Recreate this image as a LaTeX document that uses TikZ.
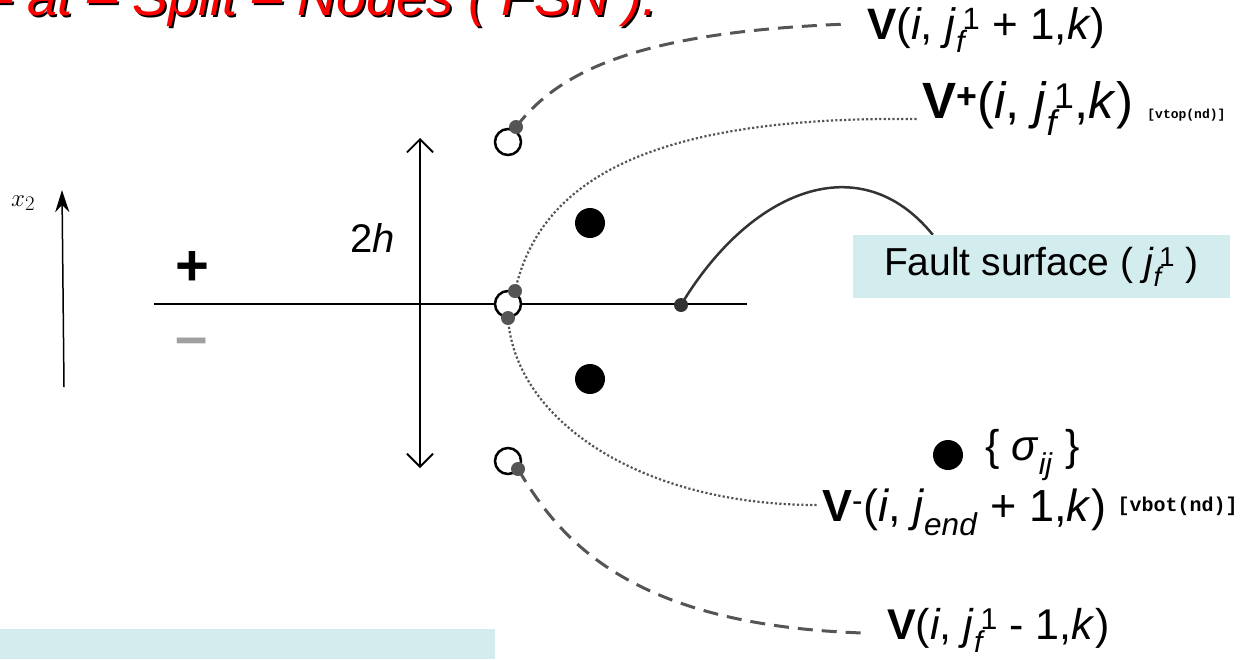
\documentclass[tikz,border=0pt]{standalone}
\usepackage{fontspec}
\setmainfont{Liberation Sans}
\setmonofont{Liberation Mono}
\usetikzlibrary{arrows.meta}
\definecolor{dotgray}{HTML}{555555}
\definecolor{curvegray}{HTML}{333333}
\definecolor{boxfill}{HTML}{D3ECEE}
\definecolor{minusgray}{HTML}{A0A0A0}
\newcommand\jfo{\textit{j}\textsubscript{\textit{f}}\kern-0.12em\textsuperscript{1}}
\newcommand\fsz[1]{\fontsize{#1}{#1}\selectfont}
\pgfdeclarelayer{bg}
\pgfsetlayers{bg,main}
\begin{document}
\begin{tikzpicture}[x=1pt,y=-1pt,
 opencirc/.style={circle,draw,line width=2.5pt,minimum size=26pt,inner sep=0pt,fill=white},
 gdot/.style={circle,fill=dotgray,minimum size=14pt,inner sep=0pt},
 bdot/.style={circle,fill=black,minimum size=30pt,inner sep=0pt},
 lab/.style={anchor=base west,inner sep=0pt,font=\fsz{43}},
 dashedc/.style={draw=dotgray,line width=3pt,dash pattern=on 15pt off 9pt},
 dottedc/.style={draw=dotgray,line width=2.2pt,dash pattern=on 2.2pt off 2.2pt},
 titletext/.style={anchor=base west,inner sep=0pt,font=\fsz{54}\itshape},
]
\useasboundingbox (0,0) rectangle (1252,659);
\clip (0,0) rectangle (1252,659);

% title
\node[titletext,text=black] (titleshadow) at (-16,17) {– at – Split – Nodes ( FSN ).};
\node[titletext,text=red] (title) at (-18,15) {– at – Split – Nodes ( FSN ).};

% x2 axis
\coordinate (xa) at (64,387);
\coordinate (xb) at (62,190);
\draw[line width=1.5pt,-{Stealth[length=22pt,width=14pt,inset=7pt]}] (xa) -- (xb);
\node[anchor=base west,inner sep=0pt,font=\fsz{30}] (xlab) at (11,206) {$x_2$};

% plus / minus
\node[anchor=base,inner sep=0pt,font=\fsz{58}\bfseries] (plus) at (192,285) {+};
\node[anchor=base,inner sep=0pt,font=\fsz{58}\bfseries,text=minusgray] (minus) at (192,356) {–};

% horizontal line
\coordinate (hl) at (154,304);
\coordinate (hr) at (747,304);
\draw[line width=2.5pt] (hl) -- (hr);

% vertical 2h arrow
\coordinate (vt) at (420,138);
\coordinate (vb) at (420,468);
\draw[line width=1.8pt,{Straight Barb[length=13pt,width=26pt]}-{Straight Barb[length=13pt,width=26pt]}] (vt) -- (vb);
\node[anchor=base west,inner sep=0pt,font=\fsz{40}] (twoh) at (350,252) {2\textit{h}};

% nodes
\node[opencirc] (c1) at (508,142) {};
\node[opencirc] (c2) at (508,304) {};
\node[opencirc] (c3) at (508,461) {};
\node[gdot] (g1) at (516,127) {};
\node[gdot] (g2) at (515,291) {};
\node[gdot] (g3) at (508,318) {};
\node[gdot] (g4) at (518,469) {};
\node[bdot] (s1) at (590,223) {};
\node[bdot] (s2) at (590,379) {};
\node[gdot,fill=curvegray] (fd) at (681,305) {};

% labels
\node[lab,font=\fsz{44}] (L1) at (867,39) {\textbf{V}(\textit{i}, \jfo{} + 1,\textit{k})};
\node[lab,font=\fsz{51}] (L2) at (922,118) {\textbf{V}\textsuperscript{\textbf{+}}(\textit{i}, \jfo,\textit{k}) {\ttfamily\bfseries\fsz{13}[vtop(nd)]}};
\node[lab,font=\fsz{45}] (L3) at (822,521) {\textbf{V}\textsuperscript{-}(\textit{i}, \textit{j}\textsubscript{\textit{end}} + 1,\textit{k})\hspace{0.25em}\raisebox{10pt}{\ttfamily\bfseries\fsz{20}[vbot(nd)]}};
\node[lab] (L4) at (887,639) {\textbf{V}(\textit{i}, \jfo{} - 1,\textit{k})};

% fault surface box
\node[fill=boxfill,minimum width=377pt,minimum height=63pt,inner sep=0pt,font=\fsz{39}] (fb) at (1041.5,266.5) {Fault surface ( \jfo{} )};

% legend
\node[bdot] (s3) at (948,455) {};
\node[anchor=west,inner sep=0pt,font=\fsz{43}] (sig) at (985,455) {\{ \textit{σ}\textsubscript{\textit{ij}} \}};

% bottom-left box
\node[fill=boxfill,minimum width=495pt,minimum height=30pt,inner sep=0pt,anchor=north west] (blbox) at (0,629) {};

% connectors
\begin{pgfonlayer}{bg}
\draw[dashedc] (g1.center) .. controls (560,70) and (640,32) .. ([xshift=-19pt,yshift=15pt]L1.base west);
\draw[dottedc] (g2.center) .. controls (540,180) and (650,116) .. ([xshift=-5pt,yshift=-1pt]L2.base west);
\draw[dottedc] (g3.center) .. controls (515,420) and (640,505) .. ([xshift=-5pt,yshift=16pt]L3.base west);
\draw[dashedc] (g4.center) .. controls (560,540) and (630,625) .. ([xshift=-24pt,yshift=6pt]L4.base west);
\draw[draw=curvegray,line width=2.5pt] (fd.center) .. controls (750,190) and (860,145) .. ([xshift=80pt]fb.north west);
\end{pgfonlayer}
\end{tikzpicture}
\end{document}
